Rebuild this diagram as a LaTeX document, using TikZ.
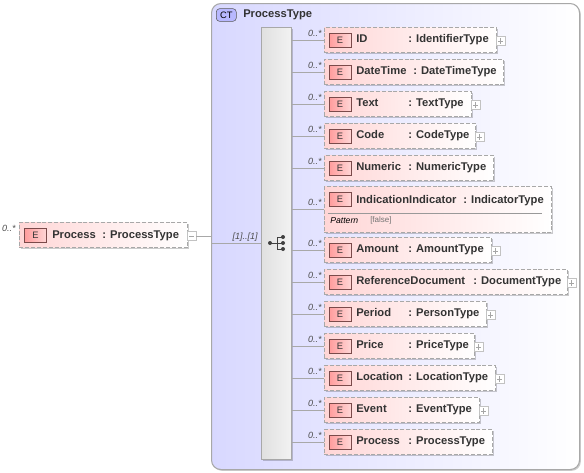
\documentclass[tikz,border=0pt]{standalone}
\usepackage{fontspec}
\setmainfont{Liberation Sans}
\usetikzlibrary{positioning,shadows}
\definecolor{xsdLav}{HTML}{D8D8FF}
\definecolor{xsdPink}{HTML}{FFD6D6}
\definecolor{xsdRose}{HTML}{FF9C9C}
\definecolor{xsdMaroon}{HTML}{7A4A4A}
\definecolor{xsdGrey}{HTML}{A8A8A8}
\definecolor{xsdText}{HTML}{333333}
\tikzset{
  elbox/.style={draw=xsdGrey, dash pattern=on 3pt off 1.4pt, line width=0.7pt, left color=xsdPink, right color=white,
        minimum height=19pt, inner sep=0pt, anchor=west,
        drop shadow={shadow xshift=1pt, shadow yshift=-1pt, opacity=0.2, fill=black}},
  badge/.style={draw=xsdMaroon, line width=0.6pt, left color=xsdRose, right color=xsdPink,
        minimum width=16.5pt, minimum height=10.5pt, inner sep=0pt, font=\fontsize{7}{8}\selectfont, text=xsdText},
  elname/.style={font=\fontsize{8.4}{10}\selectfont\bfseries, text=xsdText, inner sep=0pt, anchor=base west},
  occur/.style={font=\fontsize{6.75}{8}\selectfont\itshape, text=black!70, inner sep=0pt, anchor=east},
  conn/.style={draw=xsdGrey, line width=0.6pt},
  togl/.style={draw=xsdGrey!70, fill=white, line width=0.5pt, minimum size=6.5pt, inner sep=0pt, anchor=west},
  small/.style={font=\fontsize{6}{7}\selectfont, inner sep=0pt, anchor=west}
}
\begin{document}
\begin{tikzpicture}[x=0.75pt,y=-0.75pt]
\useasboundingbox (0,0) rectangle (584,472);
% complex type container
\node[draw=xsdGrey, line width=0.8pt, left color=xsdLav, right color=white, rounded corners=7pt,
      minimum width=276pt, minimum height=349.5pt, inner sep=0pt, anchor=north west,
      drop shadow={shadow xshift=1pt, shadow yshift=-1pt, opacity=0.2, fill=black}] (ptype) at (211,3) {};
\node[draw=black!65, fill=xsdLav!85!blue, rounded corners=2.5pt, minimum width=15pt, minimum height=9.5pt,
      inner sep=0pt, font=\fontsize{7}{8}\selectfont, anchor=west] (ctbadge) at (216,15) {CT};
\node[elname] (ctname) at (243,17) {ProcessType};
% sequence bar
\node[draw=xsdGrey, line width=0.7pt, left color=black!12, right color=white!95!black, minimum width=22.5pt, minimum height=324pt,
      inner sep=0pt, anchor=north west,
      drop shadow={shadow xshift=1pt, shadow yshift=-1pt, opacity=0.2, fill=black}] (bar) at (261,27) {};
\fill[black!75] (270,243) circle[radius=1.5pt] (283,237) circle[radius=1.5pt] (283,243) circle[radius=1.5pt] (283,249) circle[radius=1.5pt];
\draw[black!75, line width=0.6pt] (270,243) -- (277,243) (277,237) -- (277,249) (277,237) -- (283,237) (277,243) -- (283,243) (277,249) -- (283,249);
% root element
\node[elbox, minimum width=126pt] (root) at (19,235) {};
\node[badge, anchor=west] (rootbadge) at (24,235.5) {E};
\node[elname] (rootname) at (52,238) {Process};
\node[elname] (roottype) at (102,238) {: ProcessType};
\node[occur] (rootocc) at (16,228) {0..*};
\node[togl] (rootminus) at (187,236) {};
\draw[black!35, line width=0.4pt] ([xshift=1.5pt]rootminus.west) -- ([xshift=-1.5pt]rootminus.east);
\draw[conn] (rootminus.east) -- (rootminus.east -| ptype.west);
\coordinate (seqin) at (211,243);
\draw[conn] (seqin) -- (seqin -| bar.west);
\node[occur] (seqocc) at (258,237) {[1]..[1]};
% child elements: key/name/right edge/centre/colon/type/toggle
\foreach \key/\nm/\xr/\yy/\xc/\typ/\tg in {
  id/ID/496/40/408/IdentifierType/1,
  datetime/DateTime/503/72/413/DateTimeType/0,
  text/Text/471/104/408/TextType/1,
  code/Code/475/136/408/CodeType/1,
  numeric/Numeric/493/168/408/NumericType/0,
  indic/IndicationIndicator/551/209.5/463/IndicatorType/2,
  amount/Amount/491/250/408/AmountType/1,
  refdoc/ReferenceDocument/567/282/473/DocumentType/1,
  period/Period/486/314/408/PersonType/1,
  price/Price/474/346/408/PriceType/1,
  location/Location/495/378/408/LocationType/1,
  event/Event/479/410/408/EventType/1,
  process/Process/492/442/408/ProcessType/0}
{
  \pgfmathsetmacro{\boxw}{(\xr-324)*0.75}
  \ifnum\tg=2
    \node[elbox, minimum width=\boxw pt, minimum height=34pt] (\key) at (324,\yy) {};
    \node[badge] (\key badge) at (340,199.5) {E};
    \node[elname] (\key name) at (356,203) {\nm};
    \node[elname] (\key type) at (\xc,203) {: \typ};
  \else
    \node[elbox, minimum width=\boxw pt] (\key) at (324,\yy) {};
    \node[badge] (\key badge) at (340,\yy) {E};
    \node[elname] (\key name) at (356,\yy+2) {\nm};
    \node[elname] (\key type) at (\xc,\yy+2) {: \typ};
  \fi
  \draw[conn] (\key.west -| bar.east) -- (\key.west);
  \node[occur] (\key occ) at (322,\yy-7) {0..*};
  \ifnum\tg=1
    \node[togl] (\key plus) at (\xr,\yy+1) {};
    \draw[black!35, line width=0.4pt] ([xshift=1.5pt]\key plus.west) -- ([xshift=-1.5pt]\key plus.east)
      ([yshift=1.5pt]\key plus.south) -- ([yshift=-1.5pt]\key plus.north);
  \fi
}
% pattern row of the indicator
\coordinate (patl) at (328,213);
\coordinate (patr) at (542,213);
\draw[black!40, line width=0.6pt] (patl) -- (patr);
\node[small, font=\fontsize{6.5}{7}\selectfont\itshape] (patname) at (330,221) {Pattern};
\node[small, text=black!55] (patval) at (370,220.5) {[false]};
\end{tikzpicture}
\end{document}
